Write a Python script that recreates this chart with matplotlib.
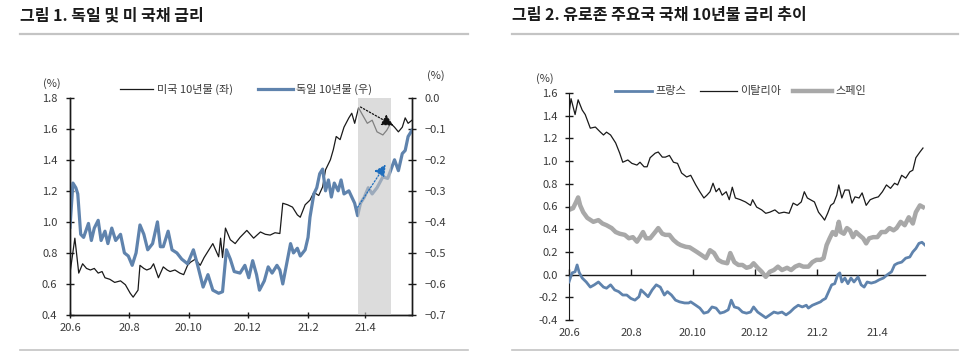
import matplotlib
matplotlib.use("Agg")
import matplotlib.pyplot as plt
import matplotlib.dates as mdates
from matplotlib.lines import Line2D
from matplotlib.ticker import FixedLocator, FuncFormatter
import pandas as pd

plt.rcParams['font.family'] = ['Noto Sans CJK KR', 'DejaVu Sans']

START = pd.Timestamp('2020-06-01')

# ---------------- Chart 1: US / Germany 10Y ----------------
us_days = [0, 5, 9, 13, 17, 21, 25, 29, 33, 36, 41, 46, 52, 57, 62, 65, 70, 72, 76, 79, 83, 86, 91,
           96, 100, 103, 108, 113, 117, 121, 124, 129, 134, 138, 141, 147, 153, 155, 157, 160, 165,
           170, 175, 182, 189, 196, 201, 206, 211, 216, 219, 224, 229, 234, 237, 242, 247, 251, 256,
           260, 263, 268, 271, 274, 278, 282, 287, 290, 293, 297, 301, 306, 311, 316, 322, 326, 330,
           334, 338, 342, 345, 348, 352]
us_vals = [0.67, 0.895, 0.67, 0.73, 0.70, 0.69, 0.70, 0.67, 0.68, 0.64, 0.63, 0.61, 0.62, 0.595, 0.54,
           0.515, 0.56, 0.72, 0.70, 0.69, 0.70, 0.73, 0.64, 0.71, 0.69, 0.68, 0.69, 0.67, 0.66, 0.72,
           0.74, 0.76, 0.72, 0.77, 0.80, 0.86, 0.775, 0.895, 0.77, 0.96, 0.885, 0.86, 0.90, 0.945,
           0.895, 0.935, 0.92, 0.915, 0.93, 0.925, 1.12, 1.11, 1.095, 1.045, 1.03, 1.11, 1.14, 1.19,
           1.17, 1.225, 1.335, 1.40, 1.465, 1.55, 1.53, 1.61, 1.67, 1.70, 1.635, 1.735, 1.69, 1.635,
           1.655, 1.58, 1.56, 1.59, 1.635, 1.61, 1.58, 1.61, 1.67, 1.635, 1.655]

de_days = [0, 3, 6, 8, 11, 14, 19, 22, 25, 29, 32, 36, 39, 43, 47, 52, 56, 60, 64, 68, 72, 76, 80,
           85, 90, 93, 96, 101, 105, 110, 115, 121, 127, 131, 137, 142, 147, 153, 157, 161, 165, 169,
           175, 180, 184, 188, 192, 195, 200, 204, 208, 213, 216, 219, 223, 227, 230, 234, 237, 242,
           245, 247, 251, 254, 257, 260, 263, 266, 269, 272, 276, 279, 282, 287, 290, 293, 296, 299,
           303, 307, 311, 316, 322, 327, 330, 334, 338, 342, 345, 348, 352]
de_vals = [-0.417, -0.275, -0.29, -0.31, -0.44, -0.45, -0.405, -0.46, -0.42, -0.395, -0.46, -0.43,
           -0.47, -0.42, -0.46, -0.44, -0.50, -0.51, -0.54, -0.50, -0.41, -0.44, -0.49, -0.47, -0.40,
           -0.48, -0.48, -0.43, -0.49, -0.50, -0.52, -0.535, -0.49, -0.535, -0.61, -0.57, -0.62,
           -0.63, -0.625, -0.49, -0.52, -0.56, -0.565, -0.54, -0.58, -0.525, -0.57, -0.62, -0.59,
           -0.545, -0.565, -0.54, -0.555, -0.60, -0.535, -0.47, -0.50, -0.485, -0.51, -0.49, -0.45,
           -0.385, -0.31, -0.29, -0.245, -0.23, -0.30, -0.265, -0.32, -0.275, -0.30, -0.265, -0.31,
           -0.30, -0.32, -0.34, -0.38, -0.34, -0.32, -0.29, -0.31, -0.29, -0.255, -0.26, -0.235,
           -0.20, -0.235, -0.18, -0.17, -0.125, -0.105]

shade_start, shade_end = '2021-03-24', '2021-04-27'
us_arrow = [('2021-03-27', 1.74), ('2021-04-30', 1.62)]
de_arrow = [('2021-03-24', -0.353), ('2021-04-22', -0.215)]

# ---------------- Chart 2: France / Italy / Spain 10Y ----------------
fr_days = [0, 3, 6, 8, 10, 13, 17, 21, 25, 29, 34, 37, 41, 45, 49, 53, 57, 61, 65, 69, 71, 74, 78,
           82, 86, 90, 94, 97, 101, 105, 109, 114, 118, 120, 125, 129, 133, 137, 141, 145, 149, 153,
           157, 160, 163, 167, 171, 175, 179, 182, 186, 190, 194, 198, 202, 206, 210, 214, 218, 222,
           226, 230, 234, 236, 240, 244, 248, 250, 253, 256, 259, 262, 265, 267, 269, 272, 275, 278,
           281, 285, 288, 291, 294, 298, 302, 306, 310, 314, 318, 321, 324, 328, 332, 336, 339, 342,
           345, 348, 351]
fr_vals = [-0.065, 0.015, 0.025, 0.085, 0.02, -0.03, -0.065, -0.11, -0.09, -0.065, -0.11, -0.12,
           -0.09, -0.135, -0.15, -0.18, -0.18, -0.21, -0.225, -0.195, -0.135, -0.16, -0.195, -0.135,
           -0.09, -0.11, -0.18, -0.15, -0.18, -0.225, -0.24, -0.25, -0.25, -0.24, -0.27, -0.295,
           -0.34, -0.33, -0.285, -0.295, -0.34, -0.33, -0.31, -0.225, -0.285, -0.295, -0.33, -0.34,
           -0.33, -0.285, -0.33, -0.355, -0.38, -0.355, -0.33, -0.34, -0.33, -0.355, -0.33, -0.295,
           -0.27, -0.285, -0.27, -0.295, -0.27, -0.255, -0.24, -0.225, -0.21, -0.15, -0.09, -0.08,
           0.00, 0.015, -0.065, -0.03, -0.08, -0.03, -0.065, -0.02, -0.09, -0.11, -0.065, -0.075,
           -0.065, -0.045, -0.03, 0.00, 0.025, 0.085, 0.10, 0.11, 0.145, 0.155, 0.20, 0.23, 0.275,
           0.285, 0.26]

it_days = [0, 2, 6, 9, 13, 16, 21, 26, 31, 34, 37, 41, 46, 50, 53, 58, 62, 67, 70, 74, 77, 80, 85,
           88, 92, 95, 99, 103, 107, 111, 116, 120, 125, 129, 133, 136, 139, 142, 145, 148, 151, 155,
           158, 161, 164, 169, 174, 179, 181, 185, 190, 194, 198, 203, 207, 212, 217, 221, 225, 229,
           232, 235, 238, 242, 246, 250, 252, 255, 258, 261, 264, 266, 269, 272, 276, 279, 282, 286,
           289, 293, 297, 301, 305, 309, 313, 317, 321, 324, 328, 332, 336, 339, 342, 346, 349]
it_vals = [1.42, 1.55, 1.41, 1.54, 1.45, 1.41, 1.29, 1.30, 1.255, 1.23, 1.255, 1.23, 1.16, 1.07,
           0.99, 1.01, 0.98, 0.965, 0.99, 0.95, 0.95, 1.03, 1.07, 1.08, 1.035, 1.035, 1.05, 0.99,
           0.98, 0.895, 0.86, 0.875, 0.79, 0.73, 0.675, 0.70, 0.73, 0.805, 0.73, 0.76, 0.70, 0.73,
           0.66, 0.77, 0.675, 0.66, 0.64, 0.61, 0.66, 0.595, 0.57, 0.54, 0.55, 0.57, 0.54, 0.55, 0.54,
           0.63, 0.61, 0.64, 0.73, 0.675, 0.66, 0.64, 0.55, 0.505, 0.48, 0.54, 0.61, 0.63, 0.70, 0.79,
           0.675, 0.745, 0.745, 0.63, 0.685, 0.675, 0.72, 0.61, 0.66, 0.675, 0.685, 0.73, 0.79, 0.76,
           0.805, 0.79, 0.875, 0.85, 0.905, 0.92, 1.03, 1.08, 1.115]

es_days = [0, 4, 7, 9, 11, 14, 18, 24, 29, 33, 37, 42, 46, 50, 55, 59, 63, 67, 70, 73, 76, 80, 85,
           88, 92, 95, 99, 103, 107, 110, 115, 119, 126, 131, 135, 139, 143, 147, 151, 156, 159, 163,
           167, 171, 175, 179, 182, 186, 190, 194, 198, 202, 206, 210, 215, 219, 223, 227, 231, 236,
           240, 244, 248, 251, 254, 257, 260, 263, 266, 268, 271, 274, 277, 280, 283, 286, 290, 293,
           296, 300, 304, 308, 312, 316, 320, 323, 327, 331, 335, 339, 342, 346, 349]
es_vals = [0.57, 0.585, 0.64, 0.68, 0.61, 0.55, 0.50, 0.465, 0.48, 0.45, 0.435, 0.41, 0.375, 0.36,
           0.35, 0.32, 0.33, 0.29, 0.33, 0.375, 0.32, 0.32, 0.375, 0.41, 0.36, 0.35, 0.35, 0.305,
           0.275, 0.26, 0.245, 0.24, 0.20, 0.17, 0.145, 0.215, 0.19, 0.13, 0.11, 0.10, 0.19, 0.11,
           0.085, 0.085, 0.06, 0.07, 0.10, 0.06, 0.025, -0.02, 0.025, 0.04, 0.07, 0.04, 0.06, 0.04,
           0.07, 0.085, 0.07, 0.07, 0.11, 0.13, 0.13, 0.145, 0.26, 0.32, 0.375, 0.35, 0.465, 0.375,
           0.36, 0.41, 0.39, 0.33, 0.375, 0.35, 0.32, 0.275, 0.32, 0.33, 0.33, 0.375, 0.375, 0.41,
           0.39, 0.41, 0.465, 0.435, 0.505, 0.45, 0.55, 0.61, 0.595]

tick_dates = ['2020-06-01', '2020-08-01', '2020-10-01', '2020-12-01', '2021-02-01', '2021-04-01']
tick_labels = ['20.6', '20.8', '20.10', '20.12', '21.2', '21.4']


def to_dates(days):
    return START + pd.to_timedelta(days, unit='D')


def dnum(s):
    return mdates.date2num(pd.Timestamp(s).to_pydatetime())


W, H = 966, 354
fig = plt.figure(figsize=(W / 100, H / 100), dpi=100)

TXT = '#3a3a3a'
BLUE = '#5f83ad'
GRAY = '#a8a8a8'


def fx(px):
    return px / W


def fy(py):
    return 1 - py / H


# Titles and rules
fig.text(fx(20), fy(15), '그림 1. 독일 및 미 국채 금리', fontsize=11.5, fontweight='bold',
         color='#1a1a1a', va='center', ha='left')
fig.text(fx(512), fy(15), '그림 2. 유로존 주요국 국채 10년물 금리 추이', fontsize=11.5,
         fontweight='bold', color='#1a1a1a', va='center', ha='left')
for x0, x1 in [(20, 468), (512, 958)]:
    fig.add_artist(Line2D([fx(x0), fx(x1)], [fy(34), fy(34)], color='#c4c4c4', lw=1.6))
    fig.add_artist(Line2D([fx(x0), fx(x1)], [fy(350), fy(350)], color='#c4c4c4', lw=1.2))

# ---------- Chart 1 ----------
ax1 = fig.add_axes([fx(70), fy(315), fx(412 - 70), (315 - 97.7) / H])
ax2 = ax1.twinx()
ax1.plot(to_dates(us_days), us_vals, color='#1a1a1a', lw=0.9, zorder=2)
ax2.plot(to_dates(de_days), de_vals, color=BLUE, lw=2.3, zorder=2)
ax2.axvspan(pd.Timestamp(shade_start), pd.Timestamp(shade_end), color='#c5c5c5', alpha=0.6,
            lw=0, zorder=3)

ax1.set_xlim(START, START + pd.Timedelta(days=352))
ax1.set_ylim(0.4, 1.8)
ax2.set_ylim(-0.7, 0.0)
ax1.yaxis.set_major_locator(FixedLocator([0.4, 0.6, 0.8, 1.0, 1.2, 1.4, 1.6, 1.8]))
ax2.yaxis.set_major_locator(FixedLocator([-0.7, -0.6, -0.5, -0.4, -0.3, -0.2, -0.1, 0.0]))
ax1.yaxis.set_major_formatter(FuncFormatter(lambda v, p: f'{v:.1f}'))
ax2.yaxis.set_major_formatter(FuncFormatter(
    lambda v, p: ('\u2212' if v < -1e-9 else '') + f'{abs(v):.1f}'))
ax1.set_xticks(pd.to_datetime(tick_dates))
ax1.set_xticklabels(tick_labels)
for ax in (ax1, ax2):
    ax.spines['top'].set_visible(False)
    for s in ax.spines.values():
        s.set_color('#1a1a1a')
        s.set_linewidth(1.0)
    ax.tick_params(axis='both', direction='inout', length=6, width=1.0, labelsize=8,
                   labelcolor=TXT, color='#1a1a1a', pad=6)
ax1.tick_params(axis='x', length=4, pad=4)

# arrows (drawn on the top axes so they sit above the shaded band)
arrow_style = '-|>,head_length=0.7,head_width=0.35'
(ua0, uv0), (ua1, uv1) = us_arrow
ax2.annotate('', xy=(dnum(ua1), uv1), xytext=(dnum(ua0), uv0),
             xycoords=ax1.transData, textcoords=ax1.transData,
             arrowprops=dict(arrowstyle=arrow_style, color='#111111', lw=0.9,
                             ls=(0, (1.2, 1.5)), shrinkA=0, shrinkB=0),
             zorder=5)
(da0, dv0), (da1, dv1) = de_arrow
ax2.annotate('', xy=(dnum(da1), dv1), xytext=(dnum(da0), dv0),
             arrowprops=dict(arrowstyle=arrow_style, color='#1f6ebd', lw=0.9,
                             ls=(0, (1.2, 1.5)), shrinkA=0, shrinkB=0),
             zorder=5)

# legend & units chart 1
fig.add_artist(Line2D([fx(120), fx(153)], [fy(89), fy(89)], color='#1a1a1a', lw=0.9))
fig.text(fx(157), fy(89), '미국 10년물 (좌)', fontsize=8, color=TXT, va='center')
fig.add_artist(Line2D([fx(258), fx(293)], [fy(89), fy(89)], color=BLUE, lw=2.3))
fig.text(fx(296), fy(89), '독일 10년물 (우)', fontsize=8, color=TXT, va='center')
fig.text(fx(52), fy(84), '(%)', fontsize=8, color=TXT, va='center', ha='center')
fig.text(fx(436), fy(76), '(%)', fontsize=8, color=TXT, va='center', ha='center')

# ---------- Chart 2 ----------
ax3 = fig.add_axes([fx(569), fy(320), fx(925 - 569), (320 - 93) / H])
ax3.plot(to_dates(es_days), es_vals, color=GRAY, lw=3.2, zorder=2)
ax3.plot(to_dates(it_days), it_vals, color='#1a1a1a', lw=0.9, zorder=3)
ax3.plot(to_dates(fr_days), fr_vals, color=BLUE, lw=2.0, zorder=4)
ax3.set_xlim(START, START + pd.Timedelta(days=351))
ax3.set_ylim(-0.4, 1.6)
ax3.yaxis.set_major_locator(FixedLocator([-0.4, -0.2, 0.0, 0.2, 0.4, 0.6, 0.8, 1.0, 1.2, 1.4, 1.6]))
ax3.yaxis.set_major_formatter(FuncFormatter(lambda v, p: f'{v:.1f}'.replace('-0.0', '0.0')))
ax3.set_xticks(pd.to_datetime(tick_dates))
ax3.set_xticklabels(tick_labels)
for s in ['top', 'right', 'bottom']:
    ax3.spines[s].set_visible(False)
ax3.spines['left'].set_color('#1a1a1a')
ax3.tick_params(axis='y', direction='inout', length=6, width=1.0, labelsize=8,
                labelcolor=TXT, color='#1a1a1a', pad=5)
ax3.tick_params(axis='x', length=0, labelsize=8, labelcolor=TXT, pad=6)
sec = ax3.secondary_xaxis(0.2)
sec.set_xticks(pd.to_datetime(tick_dates))
sec.tick_params(axis='x', direction='in', length=4, width=1.0, color='#1a1a1a', labelbottom=False,
                labeltop=False)
sec.spines['bottom'].set_color('#1a1a1a')
sec.spines['bottom'].set_linewidth(1.0)

fig.add_artist(Line2D([fx(615), fx(652)], [fy(91), fy(91)], color=BLUE, lw=2.0))
fig.text(fx(655), fy(91), '프랑스', fontsize=8, color=TXT, va='center')
fig.add_artist(Line2D([fx(700), fx(737)], [fy(91), fy(91)], color='#1a1a1a', lw=0.9))
fig.text(fx(740), fy(91), '이탈리아', fontsize=8, color=TXT, va='center')
fig.add_artist(Line2D([fx(793), fx(832)], [fy(91), fy(91)], color=GRAY, lw=3.2))
fig.text(fx(835), fy(91), '스페인', fontsize=8, color=TXT, va='center')
fig.text(fx(545), fy(79), '(%)', fontsize=8, color=TXT, va='center', ha='center')

fig.savefig('out.png', dpi=100)
